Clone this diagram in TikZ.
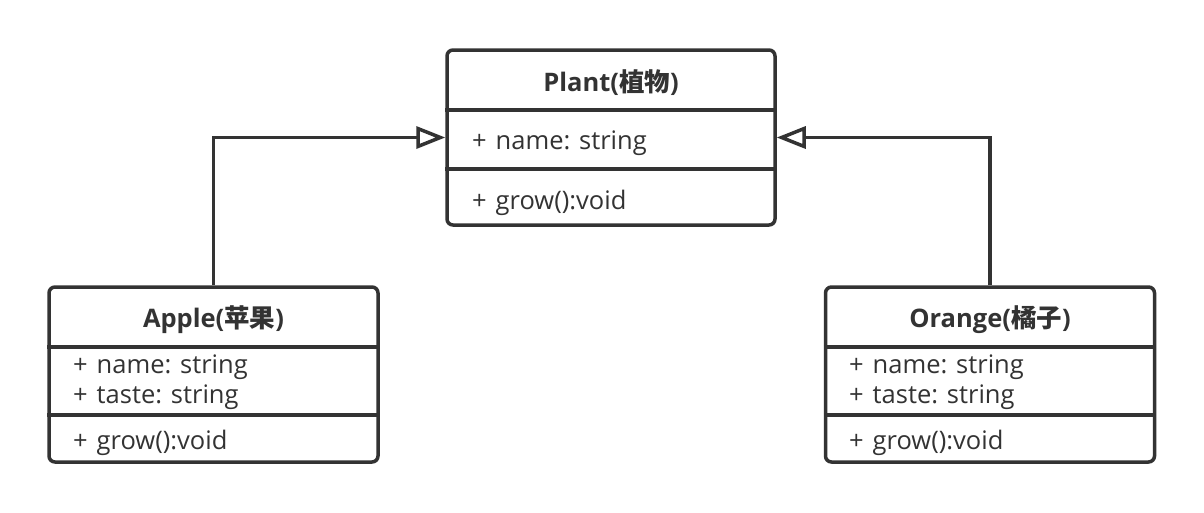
\documentclass[tikz,border=0pt]{standalone}
\usepackage{fontspec}
\setmainfont{Open Sans}
\newfontfamily\cjk{Noto Sans CJK SC}
\usetikzlibrary{arrows.meta}
\definecolor{ink}{HTML}{333333}
\begin{document}
\begin{tikzpicture}[x=1pt,y=-1pt,
box/.style={
draw=ink,
line width=3.5pt,
rounded corners=6pt,
fill=white,
},
plantbox/.style={
box,
minimum width=328pt,
minimum height=175pt,
},
fruitbox/.style={
box,
minimum width=329pt,
minimum height=175pt,
},
title/.style={
inner sep=0pt,
text=ink,
font={\bfseries\fontsize{25.5pt}{28pt}\selectfont},
},
member/.style={
inner sep=0pt,
anchor=west,
text=ink,
font={\fontsize{25.5pt}{28pt}\selectfont},
},
divider/.style={
draw=ink,
line width=3.5pt,
},
inherit/.style={
draw=ink,
line width=3.5pt,
-{Triangle[open,length=29pt,width=22pt,fill=white]},
},
]
\useasboundingbox (0,0) rectangle (1204,512);
\node[plantbox] (plant) at (611,137.5) {};
\node[fruitbox] (apple) at (213.5,374.5) {};
\node[fruitbox] (orange) at (990,374.5) {};
\draw[divider] (plant.west |- 0,110) -- (plant.east |- 0,110);
\draw[divider] (plant.west |- 0,169) -- (plant.east |- 0,169);
\draw[divider] (apple.west |- 0,347) -- (apple.east |- 0,347);
\draw[divider] (apple.west |- 0,415) -- (apple.east |- 0,415);
\draw[divider] (orange.west |- 0,347) -- (orange.east |- 0,347);
\draw[divider] (orange.west |- 0,415) -- (orange.east |- 0,415);
\node[title] (planttitle) at (611,83) {Plant({\cjk 植物})};
\node[member] (plantname) at (472,143) {+\hspace{0.35em}name: string};
\node[member] (plantgrow) at (472,203) {+\hspace{0.35em}grow():void};
\node[title] (appletitle) at (213.5,320) {Apple({\cjk 苹果})};
\node[member] (applename) at (73,367) {+\hspace{0.35em}name: string};
\node[member] (appletaste) at (73,397) {+\hspace{0.35em}taste: string};
\node[member] (applegrow) at (73,443) {+\hspace{0.35em}grow():void};
\node[title] (orangetitle) at (990,320) {Orange({\cjk 橘子})};
\node[member] (orangename) at (849,367) {+\hspace{0.35em}name: string};
\node[member] (orangetaste) at (849,397) {+\hspace{0.35em}taste: string};
\node[member] (orangegrow) at (849,443) {+\hspace{0.35em}grow():void};
\draw[inherit] (apple.north) |- (plant.west);
\draw[inherit] (orange.north) |- (plant.east);
\end{tikzpicture}
\end{document}
